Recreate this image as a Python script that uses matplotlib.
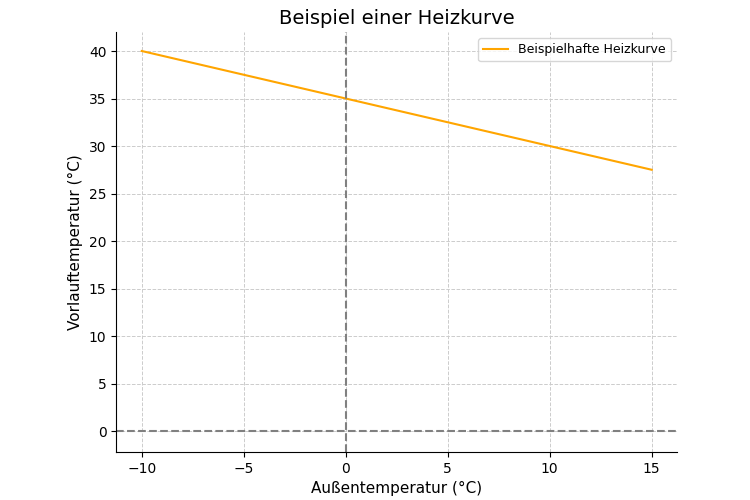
import numpy as np
import matplotlib.pyplot as plt

outdoor_temp = [-10, 15]
flow_temp = [40, 27.5]
x_ticks = [-10, -5, 0, 5, 10, 15]
y_ticks = [0, 5, 10, 15, 20, 25, 30, 35, 40]

fig = plt.figure(figsize=(7.5, 5), dpi=100)
ax = fig.add_axes([0.155, 0.096, 0.748, 0.84])

ax.plot(outdoor_temp, flow_temp, color='orange', linewidth=1.5, label='Beispielhafte Heizkurve')
ax.axhline(0, color='grey', linestyle='--', linewidth=1.5)
ax.axvline(0, color='grey', linestyle='--', linewidth=1.5)

ax.set_xlim(-11.25, 16.25)
ax.set_ylim(-2.2, 42)
ax.set_xticks(x_ticks)
ax.set_yticks(y_ticks)
ax.grid(True, linestyle='--', color='#cccccc', linewidth=0.7)
ax.spines['top'].set_visible(False)
ax.spines['right'].set_visible(False)

ax.set_title('Beispiel einer Heizkurve', fontsize=14)
ax.set_xlabel('Außentemperatur (°C)', fontsize=11)
ax.set_ylabel('Vorlauftemperatur (°C)', fontsize=11)
ax.legend(loc='upper right', fontsize=9)

fig.savefig('out.png')
